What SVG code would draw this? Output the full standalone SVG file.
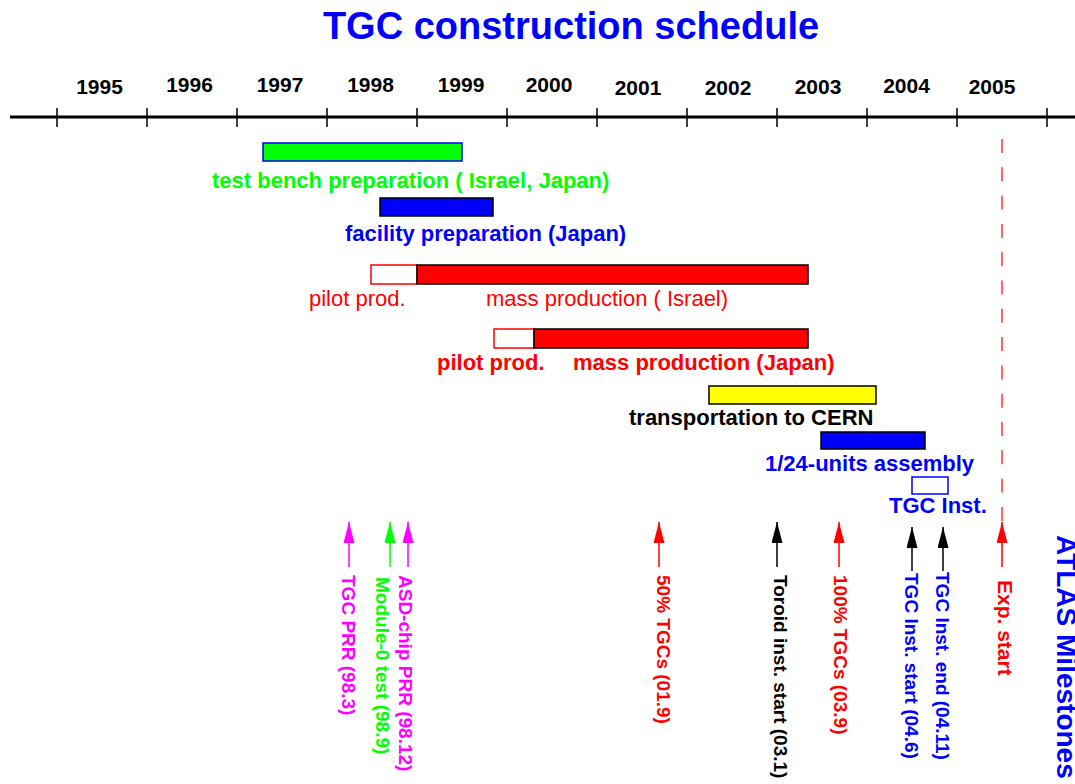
<svg xmlns="http://www.w3.org/2000/svg" width="1075" height="784" viewBox="0 0 1075 784">
<style>
.b{font-family:"Liberation Sans",Arial,sans-serif;font-weight:bold}
.r{font-family:"Liberation Sans",Arial,sans-serif}
.yr{font-size:21px;fill:#000;text-anchor:middle}
.lb{font-size:22px}
.ms{font-size:19px}
.tick{stroke:#000;stroke-width:1.5}
.bar{stroke-width:1.5}
</style>
<defs>
<marker id="aM" viewBox="0 0 21 11" refX="21" refY="5.5" markerWidth="21" markerHeight="11" markerUnits="userSpaceOnUse" orient="auto"><path d="M0,0 L21,5.5 L0,11 z" fill="#ff00ff"/></marker>
<marker id="aG" viewBox="0 0 21 11" refX="21" refY="5.5" markerWidth="21" markerHeight="11" markerUnits="userSpaceOnUse" orient="auto"><path d="M0,0 L21,5.5 L0,11 z" fill="#00ff00"/></marker>
<marker id="aR" viewBox="0 0 21 11" refX="21" refY="5.5" markerWidth="21" markerHeight="11" markerUnits="userSpaceOnUse" orient="auto"><path d="M0,0 L21,5.5 L0,11 z" fill="#ff0000"/></marker>
<marker id="aK" viewBox="0 0 21 11" refX="21" refY="5.5" markerWidth="21" markerHeight="11" markerUnits="userSpaceOnUse" orient="auto"><path d="M0,0 L21,5.5 L0,11 z" fill="#000"/></marker>
</defs>
<rect width="1075" height="784" fill="#fff"/>
<text class="b" x="571" y="39" font-size="38" fill="#0000ff" text-anchor="middle">TGC construction schedule</text>
<g id="axis">
<line x1="10" y1="117" x2="1075" y2="117" stroke="#000" stroke-width="3"/>
<line class="tick" x1="57" y1="108" x2="57" y2="127"/>
<line class="tick" x1="147" y1="108" x2="147" y2="127"/>
<line class="tick" x1="237" y1="108" x2="237" y2="127"/>
<line class="tick" x1="327" y1="108" x2="327" y2="127"/>
<line class="tick" x1="417" y1="108" x2="417" y2="127"/>
<line class="tick" x1="507" y1="108" x2="507" y2="127"/>
<line class="tick" x1="597" y1="108" x2="597" y2="127"/>
<line class="tick" x1="687" y1="108" x2="687" y2="127"/>
<line class="tick" x1="777" y1="108" x2="777" y2="127"/>
<line class="tick" x1="867" y1="108" x2="867" y2="127"/>
<line class="tick" x1="957" y1="108" x2="957" y2="127"/>
<line class="tick" x1="1047" y1="108" x2="1047" y2="127"/>
<text class="b yr" x="99.5" y="94">1995</text>
<text class="b yr" x="189.5" y="92">1996</text>
<text class="b yr" x="280" y="92">1997</text>
<text class="b yr" x="370.5" y="92">1998</text>
<text class="b yr" x="461" y="92">1999</text>
<text class="b yr" x="549" y="92">2000</text>
<text class="b yr" x="638" y="95">2001</text>
<text class="b yr" x="728" y="95">2002</text>
<text class="b yr" x="818" y="94">2003</text>
<text class="b yr" x="906.5" y="93">2004</text>
<text class="b yr" x="992" y="94">2005</text>
</g>
<g id="test-bench">
<rect class="bar" x="263" y="143" width="199" height="18" fill="#00ff00" stroke="#0000ff"/>
<text class="b lb" x="212" y="188" fill="#00ff00">test bench preparation ( Israel, Japan)</text>
</g>
<g id="facility">
<rect class="bar" x="380" y="198" width="113" height="18" fill="#0000ff" stroke="#000"/>
<text class="b lb" x="345" y="241" fill="#0000ff">facility preparation (Japan)</text>
</g>
<g id="israel-production">
<rect class="bar" x="371" y="265" width="46" height="19" fill="#fff" stroke="#ff0000"/>
<rect class="bar" x="417" y="265" width="391" height="19" fill="#ff0000" stroke="#000"/>
<text class="r lb" x="309" y="306" fill="#ff0000">pilot prod.</text>
<text class="r lb" x="486" y="306" fill="#ff0000">mass production ( Israel)</text>
</g>
<g id="japan-production">
<rect class="bar" x="494" y="329" width="40" height="19" fill="#fff" stroke="#ff0000"/>
<rect class="bar" x="534" y="329" width="274" height="19" fill="#ff0000" stroke="#000"/>
<text class="b lb" x="437" y="370" fill="#ff0000">pilot prod.</text>
<text class="b lb" x="573" y="370" fill="#ff0000">mass production (Japan)</text>
</g>
<g id="transportation">
<rect class="bar" x="709" y="386" width="167" height="18" fill="#ffff00" stroke="#000"/>
<text class="b lb" x="629" y="425" fill="#000">transportation to CERN</text>
</g>
<g id="assembly">
<rect class="bar" x="821" y="432" width="104" height="17" fill="#0000ff" stroke="#000"/>
<text class="b lb" x="765" y="471" fill="#0000ff">1/24-units assembly</text>
</g>
<g id="tgc-inst">
<rect class="bar" x="912" y="477" width="36" height="17" fill="#fff" stroke="#0000ff"/>
<text class="b lb" x="889" y="513" fill="#0000ff">TGC Inst.</text>
</g>
<g id="connectors" stroke-width="1.5">
<line x1="1002" y1="139" x2="1002" y2="524" stroke="#ff3333" stroke-dasharray="14 14.3"/>
<line x1="349" y1="567" x2="349" y2="522" stroke="#ff00ff" marker-end="url(#aM)"/>
<line x1="390" y1="567" x2="390" y2="522" stroke="#00ff00" marker-end="url(#aG)"/>
<line x1="408" y1="567" x2="408" y2="522" stroke="#ff00ff" marker-end="url(#aM)"/>
<line x1="659" y1="567" x2="659" y2="522" stroke="#ff0000" marker-end="url(#aR)"/>
<line x1="777" y1="567" x2="777" y2="522" stroke="#000" marker-end="url(#aK)"/>
<line x1="839" y1="567" x2="839" y2="522" stroke="#ff0000" marker-end="url(#aR)"/>
<line x1="912" y1="571" x2="912" y2="527" stroke="#000" marker-end="url(#aK)"/>
<line x1="943" y1="571" x2="943" y2="527" stroke="#000" marker-end="url(#aK)"/>
<line x1="1002" y1="567" x2="1002" y2="522" stroke="#ff0000" marker-end="url(#aR)"/>
</g>
<g id="milestones">
<text class="b ms" transform="translate(342,575) rotate(90)" fill="#ff00ff">TGC PRR (98.3)</text>
<text class="b ms" transform="translate(376,577) rotate(90)" fill="#00ff00">Module-0 test (98.9)</text>
<text class="b ms" transform="translate(399,575) rotate(90)" fill="#ff00ff">ASD-chip PRR (98.12)</text>
<text class="b ms" transform="translate(657,575) rotate(90)" fill="#ff0000">50% TGCs (01.9)</text>
<text class="b ms" transform="translate(774,575) rotate(90)" fill="#000">Toroid inst. start (03.1)</text>
<text class="b ms" transform="translate(834,575) rotate(90)" fill="#ff0000">100% TGCs (03.9)</text>
<text class="b ms" transform="translate(905,573) rotate(90)" fill="#0000ff">TGC Inst. start (04.6)</text>
<text class="b ms" transform="translate(936,572) rotate(90)" fill="#0000ff">TGC Inst. end (04.11)</text>
<text class="b" font-size="21" transform="translate(998,580) rotate(90)" fill="#ff0000">Exp. start</text>
<text class="b" font-size="28" transform="translate(1057,535) rotate(90)" fill="#0000ff">ATLAS Milestones</text>
</g>
</svg>
